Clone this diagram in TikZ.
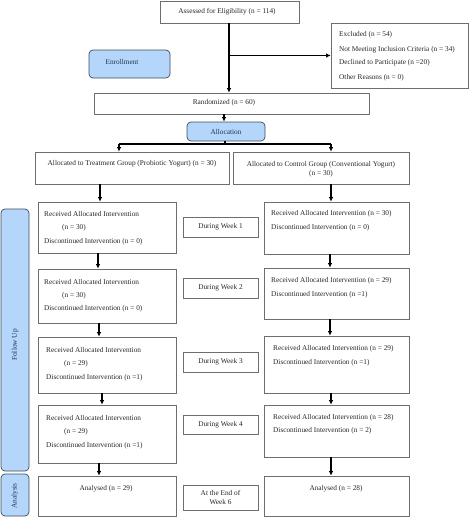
\documentclass[tikz,border=0pt]{standalone}
\usepackage{fontspec}
\setmainfont{Liberation Serif}
\usetikzlibrary{arrows.meta}
\definecolor{bxline}{HTML}{6E6E6E}
\definecolor{sidefill}{HTML}{B4D6FA}
\definecolor{sideline}{HTML}{3E4C5E}
\definecolor{sidetext}{HTML}{1F3350}
\tikzset{
  box/.style={draw=bxline, line width=0.7pt, rectangle, inner sep=0pt},
  sidebox/.style={draw=sideline, fill=sidefill, line width=0.7pt, rounded corners=4pt, inner sep=0pt},
  txt/.style={inner sep=0pt, font=\fontsize{7.3}{8.6}\selectfont, text=black!85},
  ltxt/.style={txt, anchor=west},
  ctxt/.style={txt, align=center},
  stxt/.style={inner sep=0pt, font=\fontsize{7.3}{8.6}\selectfont, text=sidetext},
  arr/.style={draw=black, line width=1.2pt, -{Latex[length=4.5pt,width=4.5pt]}},
  plain/.style={draw=black, line width=1.2pt}
}
\newcommand{\bx}[6][box]{\node[#1, minimum width={(#5-#3)*1pt}, minimum height={(#6-#4)*1pt}] (#2) at ({(#3+#5)/2},{(#4+#6)/2}) {};}
\begin{document}
\begin{tikzpicture}[x=1pt,y=-1pt]
\useasboundingbox (0,0) rectangle (472,517);
% top
\bx{assess}{160}{1}{299}{23}
\node[ctxt] (tassess) at (227,12) {Assessed for Eligibility (n = 114)};
\bx{excl}{331}{23}{468}{88}
\node[ltxt] (te1) at (339,35) {Excluded (n = 54)};
\node[ltxt] (te2) at (339,50) {Not Meeting Inclusion Criteria (n = 34)};
\node[ltxt] (te3) at (339,63) {Declined to Participate (n =20)};
\node[ltxt] (te4) at (339,78) {Other Reasons (n = 0)};
\bx[sidebox]{enroll}{89}{50}{170}{78}
\node[stxt] (tenroll) at (122,62) {Enrollment};
\bx{rand}{94}{93}{369}{114}
\node[ctxt] (trand) at (224,103) {Randomized (n = 60)};
\bx[sidebox]{alloc}{187}{122}{265}{141}
\node[stxt] (talloc) at (226,132) {Allocation};
% groups
\bx{treat}{35}{152}{229}{184}
\node[ctxt] (ttreat) at (132,164) {Allocated to Treatment Group (Probiotic Yogurt) (n = 30)};
\bx{ctrl}{233}{152}{409}{184}
\node[ctxt] (tctrl) at (321,169.5) {Allocated to Control Group (Conventional Yogurt)\\(n = 30)};
% week 1
\bx{l1}{38}{202}{176}{253}
\node[ltxt] (tl1a) at (44,214) {Received Allocated Intervention};
\node[ltxt] (tl1b) at (62,228) {(n = 30)};
\node[ltxt] (tl1c) at (44,242) {Discontinued Intervention (n = 0)};
\bx{w1}{183}{217}{258}{237}
\node[ctxt] (tw1) at (220.5,227) {During Week 1};
\bx{r1}{264}{202}{409}{254}
\node[ltxt] (tr1a) at (271,214) {Received Allocated Intervention (n = 30)};
\node[ltxt] (tr1b) at (271,228) {Discontinued Intervention (n = 0)};
% week 2
\bx{l2}{38}{269}{176}{323}
\node[ltxt] (tl2a) at (44,282) {Received Allocated Intervention};
\node[ltxt] (tl2b) at (62,296) {(n = 30)};
\node[ltxt] (tl2c) at (44,309) {Discontinued Intervention (n = 0)};
\bx{w2}{183}{278}{258}{298}
\node[ctxt] (tw2) at (220.5,288) {During Week 2};
\bx{r2}{264}{268}{409}{319}
\node[ltxt] (tr2a) at (271,281) {Received Allocated Intervention (n = 29)};
\node[ltxt] (tr2b) at (271,295) {Discontinued Intervention (n =1)};
% week 3
\bx{l3}{38}{337}{176}{393}
\node[ltxt] (tl3a) at (46,350) {Received Allocated Intervention};
\node[ltxt] (tl3b) at (64,364) {(n = 29)};
\node[ltxt] (tl3c) at (46,378) {Discontinued Intervention (n =1)};
\bx{w3}{183}{352}{258}{372}
\node[ctxt] (tw3) at (220.5,362) {During Week 3};
\bx{r3}{264}{336}{409}{393}
\node[ltxt] (tr3a) at (273,349) {Received Allocated Intervention (n = 29)};
\node[ltxt] (tr3b) at (273,363) {Discontinued Intervention (n =1)};
% week 4
\bx{l4}{38}{405}{176}{463}
\node[ltxt] (tl4a) at (46,418) {Received Allocated Intervention};
\node[ltxt] (tl4b) at (64,432) {(n = 29)};
\node[ltxt] (tl4c) at (46,446) {Discontinued Intervention (n =1)};
\bx{w4}{183}{415}{258}{434}
\node[ctxt] (tw4) at (220.5,424.5) {During Week 4};
\bx{r4}{264}{405}{409}{457}
\node[ltxt] (tr4a) at (273,418) {Received Allocated Intervention (n = 28)};
\node[ltxt] (tr4b) at (273,431) {Discontinued Intervention (n = 2)};
% analysis
\bx{la}{38}{476}{176}{516}
\node[ctxt] (tla) at (106,489) {Analysed (n = 29)};
\bx{w6}{183}{485}{258}{510}
\node[ctxt] (tw6) at (220.5,497.5) {At the End of\\Week 6};
\bx{ra}{264}{476}{409}{516}
\node[ctxt] (tra) at (336,489) {Analysed (n = 28)};
% side bars
\bx[sidebox]{follow}{1}{209}{29}{471}
\node[stxt, rotate=90] (tfollow) at (15,345) {Follow Up};
\bx[sidebox]{analysis}{1}{474}{29}{516}
\node[stxt, rotate=90] (tanalysis) at (15,496) {Analysis};
% connectors
\draw[arr] (assess.south -| 229,0) -- (rand.north -| 229,0);
\draw[arr] (excl.west -| 229,0) -- (excl.west);
\draw[arr] (rand.south -| 224,0) -- (alloc.north -| 224,0);
\coordinate (sl) at (119,144);
\coordinate (sr) at (331,144);
\draw[plain] (alloc.south -| 225,0) -- (225,144);
\draw[plain] (sl) -- (sr);
\draw[arr] (sl) -- (sl |- treat.north);
\draw[arr] (sr) -- (sr |- ctrl.north);
\draw[arr] (treat.south -| 100,0) -- (l1.north -| 100,0);
\draw[arr] (ctrl.south -| 331,0) -- (r1.north -| 331,0);
\draw[arr] (l1.south -| 98,0) -- (l2.north -| 98,0);
\draw[arr] (r1.south -| 330,0) -- (r2.north -| 330,0);
\draw[arr] (l2.south -| 99,0) -- (l3.north -| 99,0);
\draw[arr] (r2.south -| 330,0) -- (r3.north -| 330,0);
\draw[arr] (l3.south -| 102,0) -- (l4.north -| 102,0);
\draw[arr] (r3.south -| 331,0) -- (r4.north -| 331,0);
\draw[arr] (l4.south -| 99,0) -- (la.north -| 99,0);
\draw[arr] (r4.south -| 331,0) -- (ra.north -| 331,0);
\end{tikzpicture}
\end{document}
